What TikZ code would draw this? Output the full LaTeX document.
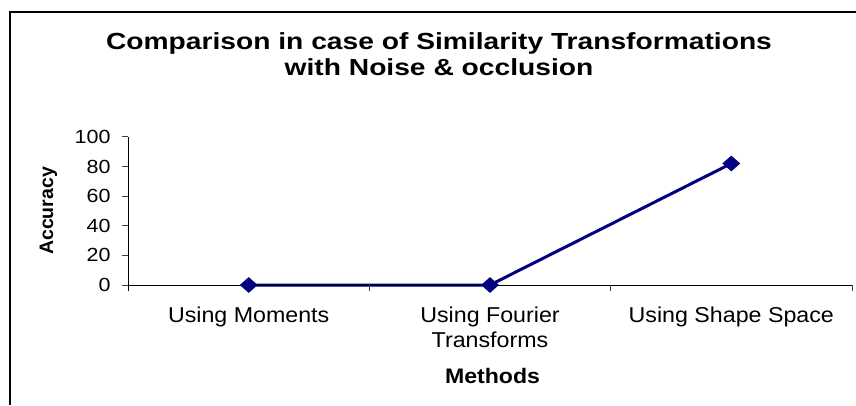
\documentclass[tikz,border=0pt]{standalone}
\usepackage{fontspec}
\setmainfont{Liberation Sans}
\newfontfamily\titlefont[FakeStretch=1.21]{Liberation Sans}
\newfontfamily\catfont[FakeStretch=1.08]{Liberation Sans}
\newfontfamily\tickfont[FakeStretch=1.13]{Liberation Sans}
\newfontfamily\axisfont[FakeStretch=1.1]{Liberation Sans}
\usetikzlibrary{shapes.geometric,backgrounds}
\definecolor{seriesblue}{RGB}{0,0,128}
\tikzset{
  charttitle/.style={anchor=base, inner sep=0pt, font=\titlefont\bfseries\fontsize{23.3}{26}\selectfont},
  ticklabel/.style={anchor=east, inner sep=0pt, font=\tickfont\fontsize{19}{22}\selectfont},
  catlabel/.style={inner sep=0pt, align=center, font=\catfont\fontsize{21.5}{24.7}\selectfont},
  axistitle/.style={inner sep=0pt, font=\axisfont\bfseries\fontsize{21}{24}\selectfont},
  axisline/.style={line width=1pt, black},
  tickmark/.style={line width=1pt, black!75},
  datapoint/.style={diamond, fill=seriesblue, draw=none, inner sep=0pt,
                    minimum width=18pt, minimum height=16pt},
  dataline/.style={line width=3pt, seriesblue},
}
\begin{document}
\begin{tikzpicture}[x=1pt, y=-1pt]
\useasboundingbox (0,0) rectangle (856,405);

% chart frame (left and top edges)
\draw[line width=2pt] (10,405) -- (10,12) -- (856,12);

% title
\node[charttitle] (title1) at (439,49.5) {Comparison in case of Similarity Transformations};
\node[charttitle] (title2) at (439,75) {with Noise \& occlusion};

% value axis with ticks and labels
\draw[axisline] (128,136.9) -- (128,291);
\foreach \v in {0,20,...,100} {
  \pgfmathsetmacro{\yy}{285-1.4815*\v}
  \draw[tickmark] (122,\yy) -- (128,\yy);
  \node[ticklabel] (tick\v) at (110.7,\yy) {\v};
}

% category axis with ticks
\draw[axisline] (128,285) -- (852,285);
\foreach \xx in {369.3,610.7,852} {
  \draw[tickmark] (\xx,285) -- (\xx,291);
}

% category labels
\node[catlabel, anchor=base] (cat1) at (248.7,322.3) {Using Moments};
\node[catlabel, anchor=north] (cat2) at (490,306.6) {Using Fourier\\Transforms};
\node[catlabel, anchor=base] (cat3) at (731.3,322.3) {Using Shape Space};

% axis titles
\node[axistitle, anchor=base] (xtitle) at (492.5,383) {Methods};
\node[inner sep=0pt, anchor=base, rotate=90,
      font=\bfseries\fontsize{19.5}{22}\selectfont] (ytitle) at (53,211) {Accuracy};

% data series
\node[datapoint] (p1) at (248.7,285) {};
\node[datapoint] (p2) at (490,285) {};
\node[datapoint] (p3) at (731.3,163.5) {};
\begin{pgfonlayer}{background}
  \draw[dataline] (p1.center) -- (p2.center) -- (p3.center);
\end{pgfonlayer}
\end{tikzpicture}
\end{document}
